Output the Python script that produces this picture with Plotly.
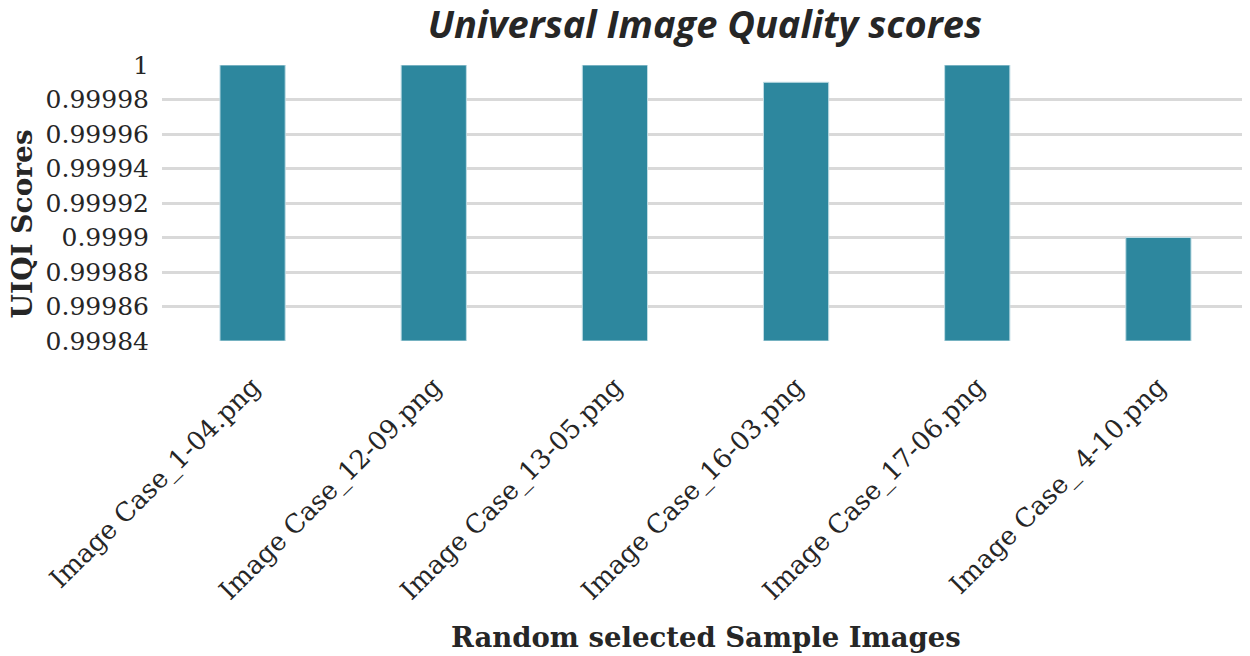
import plotly.graph_objects as go

# Data
images = [
    "Image Case_1-04.png",
    "Image Case_12-09.png",
    "Image Case_13-05.png",
    "Image Case_16-03.png",
    "Image Case_17-06.png",
    "Image Case_ 4-10.png",
]
uiqi_scores = [1.0, 1.0, 1.0, 0.99999, 1.0, 0.9999]
y_floor = 0.99984
y_ticks = [0.99984, 0.99986, 0.99988, 0.9999, 0.99992, 0.99994, 0.99996, 0.99998, 1]
y_tick_text = ["0.99984", "0.99986", "0.99988", "0.9999", "0.99992",
               "0.99994", "0.99996", "0.99998", "1"]

BAR_COLOR = "#2D879E"
GRID = "#D9D9D9"
TEXT = "#262626"
SERIF = "DejaVu Serif"

fig = go.Figure(go.Bar(
    x=images,
    y=[v - y_floor for v in uiqi_scores],   # bars rise from the axis floor
    base=y_floor,
    marker=dict(color=BAR_COLOR, line=dict(color="#BFDCE4", width=1)),
))

# page body adds an 8px margin, so the figure is sized 8px smaller
fig.update_layout(
    width=1242, height=648,
    paper_bgcolor="white", plot_bgcolor="white",
    margin=dict(l=154, r=1, t=57, b=315),
    bargap=0.64,
    showlegend=False,
    font=dict(family=SERIF, color=TEXT),
    title=dict(
        text="<b><i>Universal Image Quality scores</i></b>",
        x=0.561, xanchor="center", y=0.975, yanchor="middle", pad=dict(t=0, b=0),
        font=dict(family="Open Sans", size=38, color=TEXT),
    ),
    xaxis=dict(
        tickangle=-45, tickfont=dict(size=26, family=SERIF, color=TEXT),
        showgrid=False, showline=False,
        ticks="outside", ticklen=19, tickcolor="rgba(0,0,0,0)",
        automargin=False,
    ),
    yaxis=dict(
        range=[y_floor, 1.0], tickvals=y_ticks, ticktext=y_tick_text,
        tickfont=dict(size=25, family=SERIF, color=TEXT),
        showgrid=True, gridcolor=GRID, gridwidth=2.5,
        zeroline=False, showline=False,
        ticks="outside", ticklen=7, tickcolor="rgba(0,0,0,0)",
        automargin=False,
    ),
    annotations=[
        dict(text="<b>UIQI Scores</b>", xref="paper", yref="paper",
             x=-0.1275, y=0.424, textangle=-90, showarrow=False,
             xanchor="center", yanchor="middle",
             font=dict(family=SERIF, size=28, color=TEXT)),
        dict(text="<b>Random selected Sample Images</b>", xref="paper", yref="paper",
             x=0.5005, y=-1.072, showarrow=False, xanchor="center", yanchor="middle",
             font=dict(family=SERIF, size=27.5, color=TEXT)),
    ],
)

fig.write_html("out.html")
